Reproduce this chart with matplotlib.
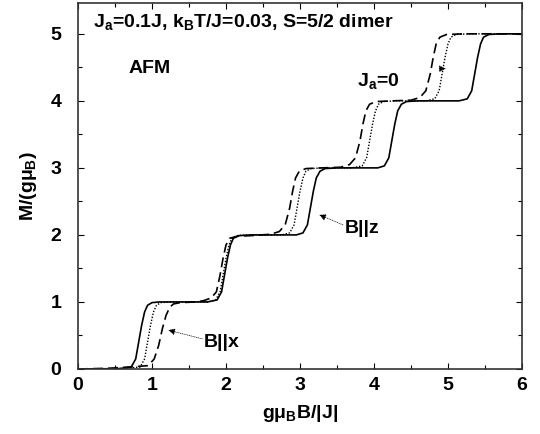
import numpy as np
import matplotlib.pyplot as plt

plt.rcParams['font.family'] = ['Liberation Sans', 'DejaVu Sans']
plt.rcParams['mathtext.fontset'] = 'custom'
plt.rcParams['mathtext.rm'] = 'Liberation Sans:bold'
plt.rcParams['mathtext.it'] = 'Liberation Sans:bold'
plt.rcParams['mathtext.bf'] = 'Liberation Sans:bold'

# solid curve
x_solid = [0, 0.55, 0.72, 0.78, 0.82, 0.86, 0.9, 0.94, 1.0, 1.1,
           1.75, 1.88, 1.94, 1.98, 2.02, 2.06, 2.1, 2.18, 2.35,
           2.95, 3.04, 3.1, 3.14, 3.18, 3.22, 3.27, 3.34, 3.5,
           4.05, 4.14, 4.2, 4.24, 4.28, 4.32, 4.37, 4.44, 4.6,
           5.15, 5.26, 5.32, 5.36, 5.4, 5.44, 5.48, 5.55, 5.7, 6.0]
m_solid = [0, 0.005, 0.03, 0.15, 0.4, 0.65, 0.85, 0.95, 0.99, 1.0,
           1.0, 1.03, 1.15, 1.4, 1.65, 1.85, 1.95, 1.99, 2.0,
           2.0, 2.03, 2.15, 2.4, 2.65, 2.85, 2.95, 2.99, 3.0,
           3.0, 3.03, 3.15, 3.4, 3.65, 3.85, 3.95, 3.99, 4.0,
           4.0, 4.03, 4.15, 4.4, 4.65, 4.85, 4.95, 4.99, 5.0, 5.0]

# dotted curve
x_dot = [0, 0.6, 0.84, 0.9, 0.94, 0.98, 1.02, 1.06, 1.12, 1.25,
         1.75, 1.86, 1.92, 1.96, 2.0, 2.04, 2.08, 2.15, 2.3,
         2.75, 2.86, 2.92, 2.96, 3.0, 3.04, 3.08, 3.15, 3.3,
         3.7, 3.84, 3.9, 3.94, 3.98, 4.02, 4.06, 4.13, 4.3,
         4.7, 4.82, 4.88, 4.92, 4.96, 5.0, 5.04, 5.11, 5.3, 6.0]
m_dot = [0, 0.005, 0.03, 0.15, 0.4, 0.65, 0.85, 0.95, 0.99, 1.0,
         1.0, 1.03, 1.15, 1.4, 1.65, 1.85, 1.95, 1.99, 2.0,
         2.0, 2.03, 2.15, 2.4, 2.65, 2.85, 2.95, 2.99, 3.0,
         3.0, 3.03, 3.15, 3.4, 3.65, 3.85, 3.95, 3.99, 4.0,
         4.0, 4.03, 4.15, 4.4, 4.65, 4.85, 4.95, 4.99, 5.0, 5.0]

# dashed curve
x_dash = [0, 0.4, 0.7, 0.95, 1.03, 1.09, 1.14, 1.19, 1.24, 1.29, 1.38, 1.6,
          1.7, 1.8, 1.87, 1.92, 1.96, 2.0, 2.05, 2.15, 2.35,
          2.6, 2.72, 2.8, 2.86, 2.9, 2.94, 2.99, 3.08, 3.3,
          3.55, 3.67, 3.75, 3.81, 3.85, 3.89, 3.94, 4.03, 4.25,
          4.5, 4.62, 4.7, 4.76, 4.8, 4.84, 4.89, 4.98, 5.2, 6.0]
m_dash = [0, 0.01, 0.03, 0.05, 0.15, 0.35, 0.6, 0.8, 0.92, 0.97, 0.99, 1.0,
          1.02, 1.06, 1.15, 1.4, 1.65, 1.85, 1.95, 1.98, 1.99,
          2.01, 2.05, 2.15, 2.4, 2.65, 2.85, 2.95, 2.99, 3.0,
          3.01, 3.05, 3.15, 3.4, 3.65, 3.85, 3.95, 3.99, 4.0,
          4.01, 4.05, 4.15, 4.4, 4.65, 4.85, 4.95, 4.99, 5.0, 5.0]

fig = plt.figure(figsize=(5.4, 4.34), dpi=100)
ax = fig.add_axes([0.1444, 0.1498, 0.8223, 0.8433])

ax.plot(x_solid, m_solid, color='black', lw=1.2, ls='-')
ax.plot(x_dot, m_dot, color='black', lw=1.0, ls=(0, (1, 1.2)))
ax.plot(x_dash, m_dash, color='black', lw=1.2, ls=(0, (6, 3)))

ax.set_xlim(0, 6)
ax.set_ylim(0, 5.46)
ax.set_xticks(range(7))
ax.set_yticks(range(6))
ax.set_xticks(np.arange(0.5, 6, 1), minor=True)
ax.set_yticks(np.arange(0.5, 5.5, 1), minor=True)
ax.tick_params(which='both', direction='in', top=True, right=True,
               labelsize=14, width=0.8)
ax.tick_params(axis='y', pad=12)
ax.tick_params(axis='x', pad=6)
ax.tick_params(which='major', length=4)
ax.tick_params(which='minor', length=3)
for lab in ax.get_xticklabels() + ax.get_yticklabels():
    lab.set_fontweight('bold')
for s in ax.spines.values():
    s.set_linewidth(1.2)
    s.set_color('#333333')

ax.set_xlabel(r'g$\mu_{\rm B}$B/|J|', fontsize=14, fontweight='bold', labelpad=6)
ax.set_ylabel(r'M/(g$\mu_{\rm B}$)', fontsize=14, fontweight='bold', labelpad=8)

ax.text(0.2, 5.18, r'J$_{\rm a}$=0.1J, k$_{\rm B}$T/J=0.03, S=5/2 dimer',
        fontsize=14, fontweight='bold', va='center')
ax.text(0.68, 4.48, 'AFM', fontsize=14, fontweight='bold', va='center')
ax.text(3.77, 4.3, r'J$_{\rm a}$=0', fontsize=14, fontweight='bold', va='center')
ax.text(3.6, 2.1, 'B||z', fontsize=14, fontweight='bold', va='center')
ax.text(1.7, 0.4, 'B||x', fontsize=14, fontweight='bold', va='center')

arr = dict(arrowstyle='-|>', color='black', lw=0.5, ls=':',
           mutation_scale=10, shrinkA=0, shrinkB=0)
ax.annotate('', xy=(1.22, 0.58), xytext=(1.68, 0.45), arrowprops=arr)
ax.annotate('', xy=(3.26, 2.3), xytext=(3.58, 2.15), arrowprops=arr)
ax.annotate('', xy=(4.97, 4.48), xytext=(4.88, 4.48), arrowprops=arr)

fig.savefig('out.png', dpi=100)
